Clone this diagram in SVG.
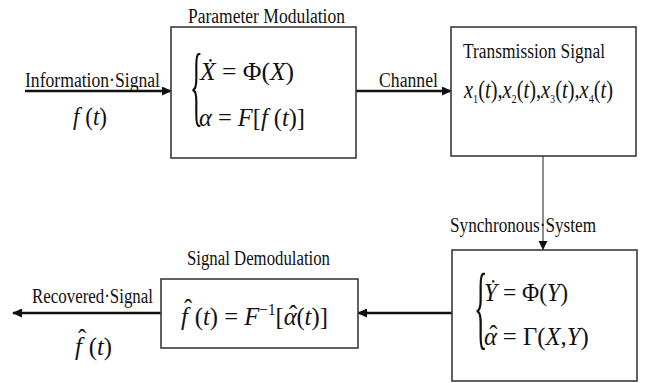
<svg xmlns="http://www.w3.org/2000/svg" width="645" height="383" viewBox="0 0 645 383" font-family="Liberation Serif, Times New Roman, serif">
<style>
.box{fill:#fff;stroke:#3a3a3a;stroke-width:1.6}
.lbl{font-size:20px;fill:#111}
.m{font-size:26px;font-style:italic;fill:#111}
.r{font-style:normal}
.br{fill:#111}
.arr{stroke:#111;stroke-width:2.6;fill:none}
.thin{stroke:#333;stroke-width:1.1;fill:none}
</style>
<defs>
<marker id="ah" markerWidth="10" markerHeight="9" refX="9" refY="4.5" orient="auto" markerUnits="userSpaceOnUse"><path d="M0,0 L10,4.5 L0,9 Z" fill="#111"/></marker>
<marker id="ahs" markerWidth="9" markerHeight="10" refX="9" refY="5" orient="auto" markerUnits="userSpaceOnUse"><path d="M0,0.5 L9,5 L0,9.5 Z" fill="#111"/></marker>
</defs>
<rect width="645" height="383" fill="#fff"/>
<g id="connectors">
<line class="arr" x1="25" y1="91" x2="171" y2="91" marker-end="url(#ah)"/>
<line class="arr" x1="356" y1="91" x2="451" y2="91" marker-end="url(#ah)"/>
<line class="thin" x1="543" y1="156" x2="543" y2="250" marker-end="url(#ahs)"/>
<line class="arr" x1="452" y1="313" x2="358" y2="313" marker-end="url(#ah)"/>
<line class="arr" x1="161" y1="313" x2="13" y2="313" marker-end="url(#ah)"/>
</g>
<g id="input">
<text class="lbl" x="25" y="87" textLength="135" lengthAdjust="spacingAndGlyphs">Information·Signal</text>
<text class="m" x="73" y="125" font-size="24" textLength="34" lengthAdjust="spacingAndGlyphs">f <tspan class="r">(</tspan>t<tspan class="r">)</tspan></text>
</g>
<g id="param-mod">
<text class="lbl" x="188" y="23" textLength="157" lengthAdjust="spacingAndGlyphs">Parameter Modulation</text>
<rect class="box" x="171" y="27" width="185" height="131"/>
<text class="br" font-size="89" transform="translate(190,115) scale(0.3,1)">{</text>
<text class="m" x="200" y="80" textLength="94" lengthAdjust="spacingAndGlyphs">Ẋ <tspan class="r">= Φ(</tspan>X<tspan class="r">)</tspan></text>
<text class="m" x="199" y="126" textLength="106" lengthAdjust="spacingAndGlyphs">α <tspan class="r">=</tspan> F<tspan class="r">[</tspan>f <tspan class="r">(</tspan>t<tspan class="r">)]</tspan></text>
</g>
<text class="lbl" x="379" y="87" textLength="59" lengthAdjust="spacingAndGlyphs">Channel</text>
<g id="transmission">
<rect class="box" x="451" y="27" width="185" height="129"/>
<text class="lbl" x="463" y="58" textLength="142" lengthAdjust="spacingAndGlyphs">Transmission Signal</text>
<text class="m" x="464" y="98" font-size="23" textLength="149" lengthAdjust="spacingAndGlyphs">x<tspan dy="5" font-size="13" class="r">1</tspan><tspan dy="-5" class="r">(</tspan>t<tspan class="r">),</tspan>x<tspan dy="5" font-size="13" class="r">2</tspan><tspan dy="-5" class="r">(</tspan>t<tspan class="r">),</tspan>x<tspan dy="5" font-size="13" class="r">3</tspan><tspan dy="-5" class="r">(</tspan>t<tspan class="r">),</tspan>x<tspan dy="5" font-size="13" class="r">4</tspan><tspan dy="-5" class="r">(</tspan>t<tspan class="r">)</tspan></text>
</g>
<g id="sync">
<text class="lbl" x="450" y="232" textLength="146" lengthAdjust="spacingAndGlyphs">Synchronous·System</text>
<rect class="box" x="452" y="250" width="185" height="131"/>
<text class="br" font-size="94" transform="translate(474,338) scale(0.3,1)">{</text>
<text class="m" x="484" y="301" textLength="84" lengthAdjust="spacingAndGlyphs">Ẏ <tspan class="r">= Φ(</tspan>Y<tspan class="r">)</tspan></text>
<text class="m" transform="translate(484,345) scale(0.95,1)">α<tspan class="r" dx="-8" dy="-2">ˆ</tspan><tspan class="r" dx="-1" dy="2"> = Γ(</tspan>X<tspan class="r">,</tspan>Y<tspan class="r">)</tspan></text>
</g>
<g id="demod">
<text class="lbl" x="187" y="265" textLength="143" lengthAdjust="spacingAndGlyphs">Signal Demodulation</text>
<rect class="box" x="161" y="279" width="197" height="69"/>
<text class="m" transform="translate(181,325) scale(0.95,1)">f<tspan class="r" dx="-4" dy="-8">ˆ</tspan><tspan class="r" dx="-4" dy="8"> (</tspan>t<tspan class="r">) =</tspan> F<tspan dy="-10" font-size="16" class="r">−1</tspan><tspan dy="10" class="r">[</tspan>α<tspan class="r" dx="-8" dy="-2">ˆ</tspan><tspan class="r" dx="-1" dy="2">(</tspan>t<tspan class="r">)]</tspan></text>
</g>
<g id="output">
<text class="lbl" x="32" y="303" textLength="121" lengthAdjust="spacingAndGlyphs">Recovered·Signal</text>
<text class="m" font-size="24" transform="translate(75,355) scale(0.95,1)">f<tspan class="r" dx="-4" dy="-8">ˆ</tspan><tspan class="r" dx="-4" dy="8"> (</tspan>t<tspan class="r">)</tspan></text>
</g>
</svg>
